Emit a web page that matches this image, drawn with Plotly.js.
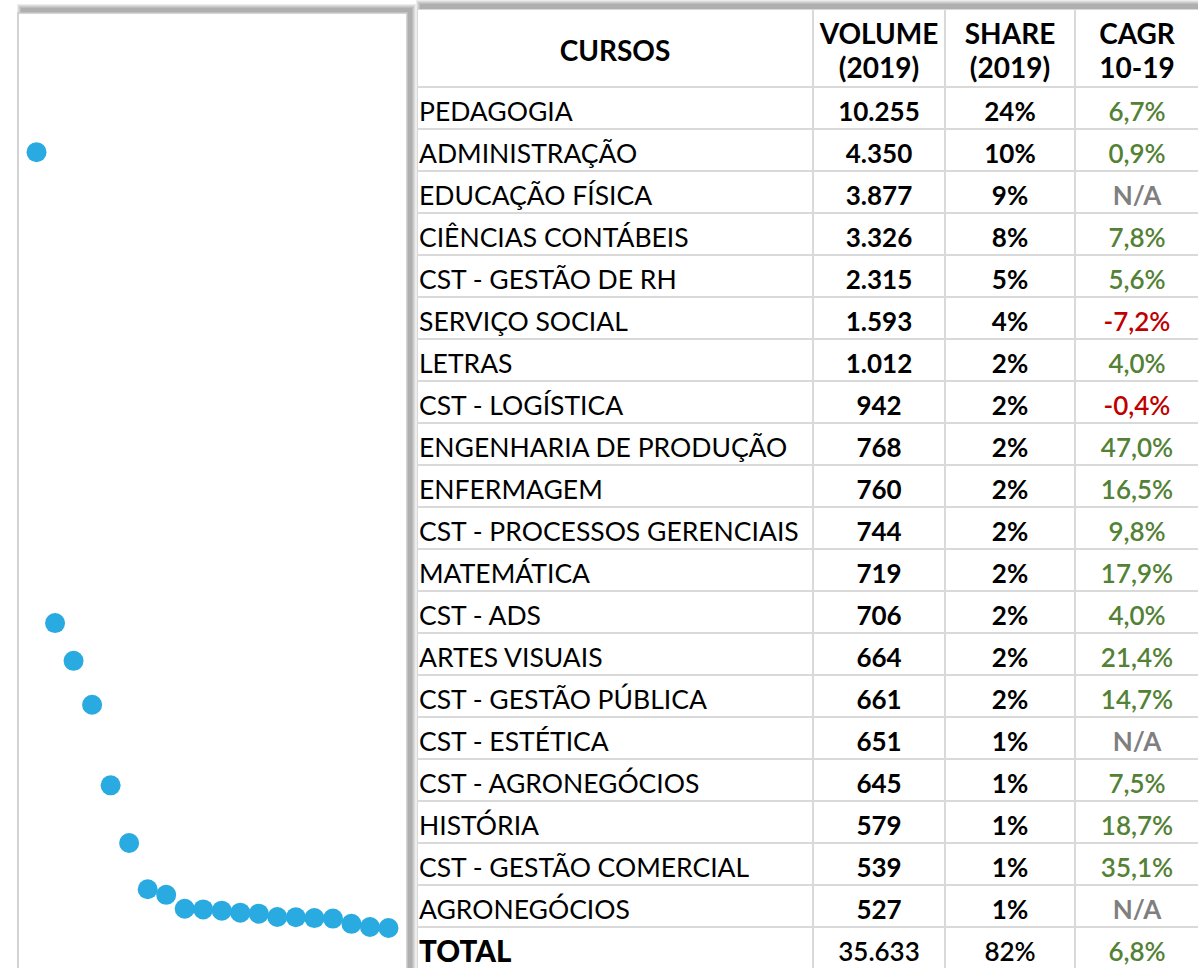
<!DOCTYPE html>
<html>
<head>
<meta charset="utf-8">
<script src="https://cdn.plot.ly/plotly-3.0.1.min.js"></script>
<style>html,body{margin:0;padding:0;background:#fff;}#chart{width:1198px;height:968px;}</style>
</head>
<body>
<div id="chart"></div>
<script>
const cursos = ["PEDAGOGIA","ADMINISTRAÇÃO","EDUCAÇÃO FÍSICA","CIÊNCIAS CONTÁBEIS","CST - GESTÃO DE RH","SERVIÇO SOCIAL","LETRAS","CST - LOGÍSTICA","ENGENHARIA DE PRODUÇÃO","ENFERMAGEM","CST - PROCESSOS GERENCIAIS","MATEMÁTICA","CST - ADS","ARTES VISUAIS","CST - GESTÃO PÚBLICA","CST - ESTÉTICA","CST - AGRONEGÓCIOS","HISTÓRIA","CST - GESTÃO COMERCIAL","AGRONEGÓCIOS"];
const volume = [10255,4350,3877,3326,2315,1593,1012,942,768,760,744,719,706,664,661,651,645,579,539,527];
const share = [24,10,9,8,5,4,2,2,2,2,2,2,2,2,2,1,1,1,1,1];
const cagr = [6.7,0.9,null,7.8,5.6,-7.2,4.0,-0.4,47.0,16.5,9.8,17.9,4.0,21.4,14.7,null,7.5,18.7,35.1,null];
const totalLabel = "TOTAL";
const totalVolume = 35633;
const totalShare = 82;
const totalCagr = 6.8;
const headerLine1 = ["CURSOS", "VOLUME", "SHARE", "CAGR"];
const headerLine2 = ["", "(2019)", "(2019)", "10-19"];

const W = 1198, H = 968;
const GREEN = "#538135", RED = "#C00000", GRAY = "#7F7F7F", GRID = "#D9D9D9";

function fmtInt(v){ return String(v).replace(/\B(?=(\d{3})+(?!\d))/g, "."); }
function fmtPct(v){ return v.toFixed(1).replace(".", ",") + "%"; }
function px(x){ return x / W; }
function py(y){ return 1 - y / H; }

// ---- table geometry (in table-axis units = pixels) ----
const TABLE_X0 = 417, TABLE_Y0 = 9;
const colWidths = [396, 132, 130, 124];
const HEADER_H = 78, ROW_H = 42, TEXT_DY = 6.5;
const colEdges = [0];
colWidths.forEach(w => colEdges.push(colEdges[colEdges.length - 1] + w));
const colCenters = colWidths.map((w, i) => colEdges[i] + w / 2);
const tableW = colEdges[colEdges.length - 1];
const tableH = H - TABLE_Y0;
const nRows = cursos.length + 1;
const rowCenters = [];
for (let i = 0; i < nRows; i++) rowCenters.push(HEADER_H + ROW_H * i + ROW_H / 2 + TEXT_DY);

const FONT = "Lato";
const BODY = 26.5, NUM = 26, HEAD = 28;

const traces = [];

// scatter panel
traces.push({
  type: "scatter", mode: "markers",
  x: volume.map((v, i) => i + 1), y: volume,
  marker: {color: "#29ABE2", size: 20},
  hoverinfo: "y", xaxis: "x", yaxis: "y", cliponaxis: false
});

// header
const hdrCenter = HEADER_H / 2 + 6;
traces.push({
  type: "scatter", mode: "text", xaxis: "x2", yaxis: "y2", hoverinfo: "skip",
  x: colCenters.slice(1).concat(colCenters.slice(1)),
  y: colCenters.slice(1).map(() => hdrCenter - 17).concat(colCenters.slice(1).map(() => hdrCenter + 17)),
  text: headerLine1.slice(1).concat(headerLine2.slice(1)),
  textposition: "middle center",
  textfont: {family: FONT, size: HEAD, color: "#000000", weight: 700},
  cliponaxis: false
});
traces.push({
  type: "scatter", mode: "text", xaxis: "x2", yaxis: "y2", hoverinfo: "skip",
  x: [colCenters[0]], y: [hdrCenter], text: [headerLine1[0]],
  textposition: "middle center",
  textfont: {family: FONT, size: HEAD, color: "#000000", weight: 700},
  cliponaxis: false
});

// course names
traces.push({
  type: "scatter", mode: "text", xaxis: "x2", yaxis: "y2", hoverinfo: "skip",
  x: cursos.map(() => 2), y: rowCenters.slice(0, cursos.length),
  text: cursos, textposition: "middle right",
  textfont: {family: FONT, size: BODY, color: "#000000", weight: 400},
  cliponaxis: false
});
traces.push({
  type: "scatter", mode: "text", xaxis: "x2", yaxis: "y2", hoverinfo: "skip",
  x: [2], y: [rowCenters[nRows - 1]],
  text: [totalLabel], textposition: "middle right",
  textfont: {family: FONT, size: 29.5, color: "#000000", weight: 900},
  cliponaxis: false
});

// volume & share (bold)
traces.push({
  type: "scatter", mode: "text", xaxis: "x2", yaxis: "y2", hoverinfo: "skip",
  x: volume.map(() => colCenters[1]).concat(share.map(() => colCenters[2])),
  y: rowCenters.slice(0, volume.length).concat(rowCenters.slice(0, share.length)),
  text: volume.map(fmtInt).concat(share.map(v => v + "%")),
  textposition: "middle center",
  textfont: {family: FONT, size: NUM, color: "#000000", weight: 700},
  cliponaxis: false
});
// CAGR values
const cagrIdx = cagr.map((v, i) => i).filter(i => cagr[i] !== null);
const naIdx = cagr.map((v, i) => i).filter(i => cagr[i] === null);
traces.push({
  type: "scatter", mode: "text", xaxis: "x2", yaxis: "y2", hoverinfo: "skip",
  x: cagrIdx.map(() => colCenters[3]), y: cagrIdx.map(i => rowCenters[i]),
  text: cagrIdx.map(i => fmtPct(cagr[i])),
  textposition: "middle center",
  textfont: {family: FONT, size: NUM, color: cagrIdx.map(i => cagr[i] < 0 ? RED : GREEN), weight: 600},
  cliponaxis: false
});
traces.push({
  type: "scatter", mode: "text", xaxis: "x2", yaxis: "y2", hoverinfo: "skip",
  x: naIdx.map(() => colCenters[3]), y: naIdx.map(i => rowCenters[i]),
  text: naIdx.map(() => "N/A"),
  textposition: "middle center",
  textfont: {family: FONT, size: NUM, color: GRAY, weight: 700},
  cliponaxis: false
});
// total row values
traces.push({
  type: "scatter", mode: "text", xaxis: "x2", yaxis: "y2", hoverinfo: "skip",
  x: [colCenters[1], colCenters[2], colCenters[3]],
  y: [rowCenters[nRows - 1], rowCenters[nRows - 1], rowCenters[nRows - 1]],
  text: [fmtInt(totalVolume), totalShare + "%", fmtPct(totalCagr)],
  textposition: "middle center",
  textfont: {family: FONT, size: NUM, color: ["#000000", "#000000", totalCagr < 0 ? RED : GREEN], weight: 600},
  cliponaxis: false
});

// ---- shapes: shadows, panel box, table grid ----
const shapes = [];
function shadow(x0, y0, x1, y1){
  for (let s = 5; s >= 1; s--) {
    shapes.push({type: "rect", xref: "paper", yref: "paper", layer: "below",
      x0: px(x0 + 4 - s), x1: px(x1 + 4 + s), y0: py(y1), y1: py(y0 - 4 - s),
      line: {width: 0}, fillcolor: "rgba(0,0,0,0.07)"});
  }
}
shadow(18, 13, 407, 1000);
shadow(TABLE_X0, TABLE_Y0, 1220, 1000);
shapes.push({type: "rect", xref: "paper", yref: "paper", layer: "below",
  x0: px(18), x1: px(407), y0: py(1000), y1: py(13),
  line: {color: "#C8C8C8", width: 1.5}, fillcolor: "#FFFFFF"});
shapes.push({type: "rect", xref: "paper", yref: "paper", layer: "below",
  x0: px(TABLE_X0), x1: px(1220), y0: py(1000), y1: py(TABLE_Y0),
  line: {width: 0}, fillcolor: "#FFFFFF"});
// horizontal grid lines
const hLines = [0, HEADER_H];
for (let i = 1; i <= nRows; i++) hLines.push(HEADER_H + ROW_H * i);
hLines.forEach(y => shapes.push({type: "line", xref: "x2", yref: "y2", layer: "above",
  x0: 0, x1: tableW + 20, y0: y, y1: y, line: {color: GRID, width: 2}}));
colEdges.forEach(x => shapes.push({type: "line", xref: "x2", yref: "y2", layer: "above",
  x0: x, x1: x, y0: 0, y1: tableH + 20, line: {color: GRID, width: 2}}));

const axisOff = {showgrid: false, zeroline: false, showticklabels: false, showline: false, ticks: "", fixedrange: true};
const layout = {
  width: W, height: H,
  margin: {l: 0, r: 0, t: 0, b: 0},
  paper_bgcolor: "#FFFFFF",
  plot_bgcolor: "rgba(0,0,0,0)",
  showlegend: false,
  font: {family: FONT},
  xaxis: Object.assign({domain: [px(18), px(407)], range: [0, 21]}, axisOff),
  yaxis: Object.assign({domain: [0, py(13)], range: [25, 12000]}, axisOff),
  xaxis2: Object.assign({domain: [px(TABLE_X0), 1], range: [0, W - TABLE_X0], anchor: "y2"}, axisOff),
  yaxis2: Object.assign({domain: [0, py(TABLE_Y0)], range: [tableH, 0], anchor: "x2"}, axisOff),
  shapes: shapes
};

Plotly.newPlot("chart", traces, layout, {displayModeBar: false, staticPlot: true});
</script>
</body>
</html>
